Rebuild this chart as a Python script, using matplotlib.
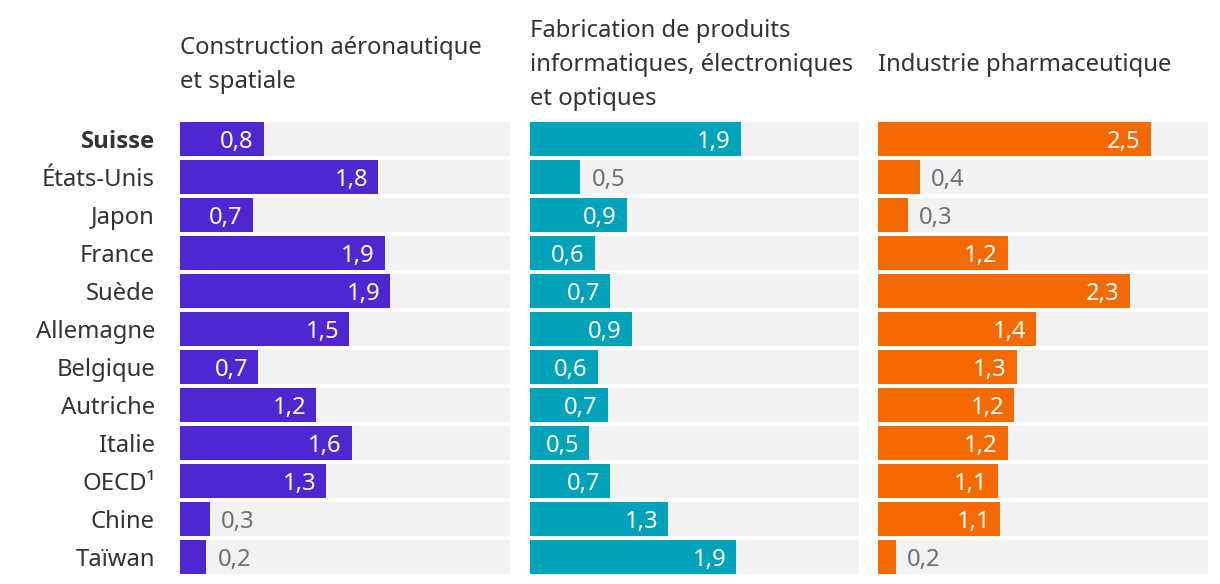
import matplotlib
matplotlib.use("Agg")
import matplotlib.pyplot as plt

plt.rcParams['font.family'] = ['Noto Sans', 'DejaVu Sans']

# Pays (de haut en bas)
countries = ['Suisse', 'États-Unis', 'Japon', 'France', 'Suède', 'Allemagne',
             'Belgique', 'Autriche', 'Italie', 'OECD¹', 'Chine', 'Taïwan']

# Titres des trois panneaux
titles = ['Construction aéronautique\net spatiale',
          'Fabrication de produits\ninformatiques, électroniques\net optiques',
          'Industrie pharmaceutique']

aero = [0.76, 1.80, 0.66, 1.86, 1.91, 1.54, 0.71, 1.24, 1.56, 1.33, 0.27, 0.24]
elec = [1.92, 0.46, 0.88, 0.59, 0.73, 0.93, 0.62, 0.71, 0.54, 0.73, 1.26, 1.88]
pharma = [2.48, 0.38, 0.27, 1.18, 2.29, 1.44, 1.26, 1.24, 1.18, 1.09, 1.11, 0.16]

series = [aero, elec, pharma]
colors = ['#5026d0', '#00a3b9', '#f46a00']

W, H = 1220, 584
fig = plt.figure(figsize=(W / 100, H / 100), dpi=100)

lefts = [180, 530, 878]
widths = [330, 329, 330]
top_px, bottom_px = 122, 574
xmax = 3.0
bar_h = 34 / 38

text_dark = '#333333'
text_grey = '#707070'
fs = 17.2

for i, (vals, col) in enumerate(zip(series, colors)):
    ax = fig.add_axes([lefts[i] / W, 1 - bottom_px / H, widths[i] / W,
                       (bottom_px - top_px) / H])
    y = list(range(len(countries)))
    ax.barh(y, [xmax] * len(y), height=bar_h, color='#f2f2f2', linewidth=0)
    ax.barh(y, vals, height=bar_h, color=col, linewidth=0)
    ax.set_xlim(0, xmax)
    ax.set_ylim(len(y) - 1 + bar_h / 2, -bar_h / 2)
    ax.axis('off')
    px_per_unit = widths[i] / xmax
    for yi, v in zip(y, vals):
        lab = f"{v:.1f}".replace('.', ',')
        if v >= 0.5:
            ax.text(v - 10 / px_per_unit, yi, lab, ha='right', va='center_baseline',
                    color='white', fontsize=fs)
        else:
            ax.text(v + 11 / px_per_unit, yi, lab, ha='left', va='center_baseline',
                    color=text_grey, fontsize=fs)
    if i == 0:
        # noms des pays, Suisse en gras
        for yi, name in zip(y, countries):
            if yi == 0:
                ax.text(-25 / px_per_unit, yi, name, ha='right', va='center_baseline',
                        fontsize=fs, color=text_dark, fontweight='bold',
                        family=['Open Sans', 'Roboto', 'DejaVu Sans'])
            else:
                ax.text(-25 / px_per_unit, yi, name, ha='right', va='center_baseline',
                        fontsize=fs, color=text_dark)
    fig.text(lefts[i] / W, 1 - 65 / H, titles[i], ha='left', va='center',
             fontsize=fs, color=text_dark, linespacing=1.55)

fig.savefig('out.png', dpi=100)
